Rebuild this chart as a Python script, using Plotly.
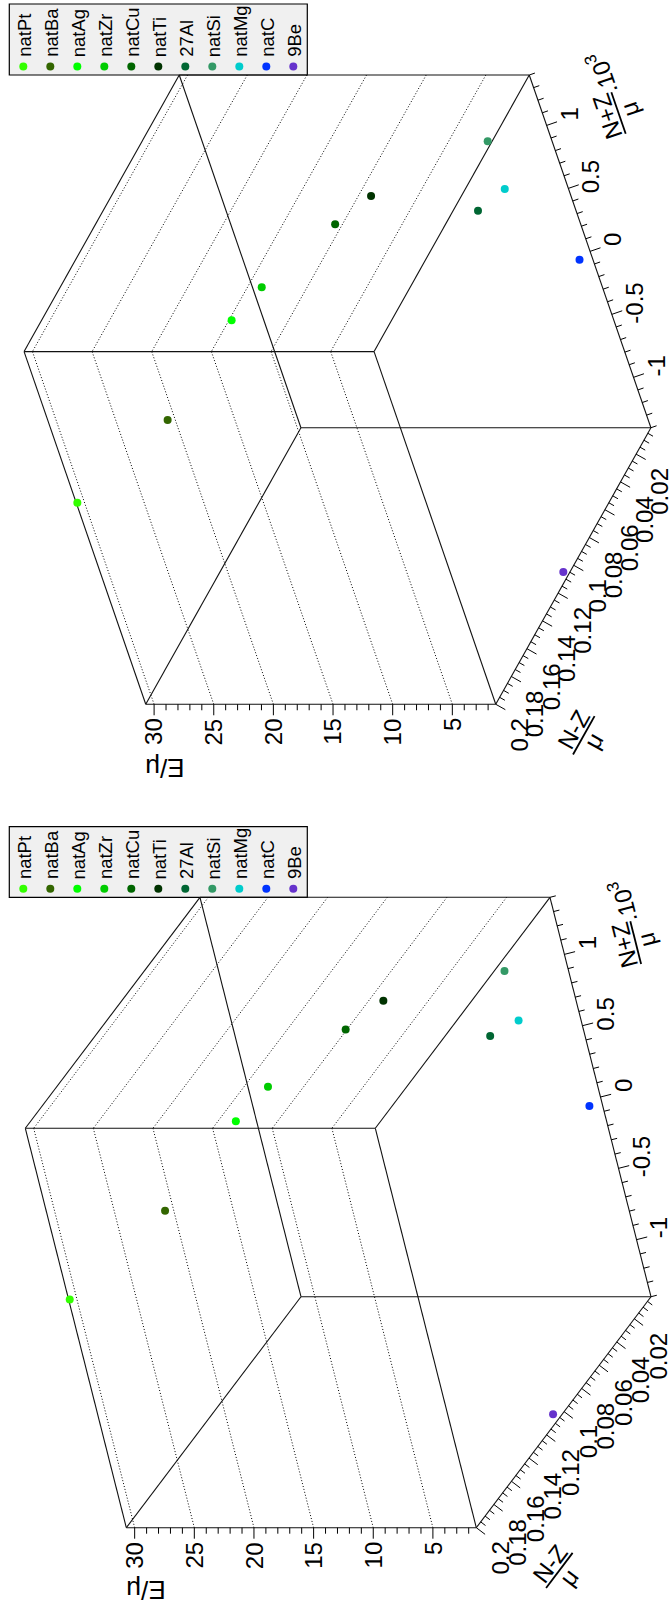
import math
import plotly.graph_objects as go

# ---------------- data ----------------
materials = ["natPt", "natBa", "natAg", "natZr", "natCu", "natTi",
             "27Al", "natSi", "natMg", "natC", "9Be"]
marker_colors = ["#33ff00", "#336600", "#00ff00", "#00cc00", "#006600", "#003300",
                 "#006633", "#339966", "#00cccc", "#0033ff", "#6633cc"]
# (N+Z)/mu  (x 10^3 axis units)
n_plus_z = [0.199, 0.725, 0.887, 1.077, 1.198, 1.337, 0.722, 0.911, 0.647, -0.054, -1.315]
# (N-Z)/mu
n_minus_z = [0.200, 0.188, 0.131, 0.1245, 0.090, 0.0824, 0.0372, 0.0043, 0.0147, 0.0021, 0.1126]
# E/mu
e_over_mu = [30.61, 21.91, 19.68, 16.89, 12.55, 9.53, 5.76, 6.41, 5.26, 2.37, 1.10]

x_range = [-1.4, 1.4]
y_range = [0.001, 0.2]
z_range = [1.36, 30.7]
x_tick_values = [-1, -0.5, 0, 0.5, 1]
x_tick_labels = ["-1", "-0.5", "0", "0.5", "1"]
y_tick_values = [0.02, 0.04, 0.06, 0.08, 0.1, 0.12, 0.14, 0.16, 0.18, 0.2]
y_tick_labels = ["0.02", "0.04", "0.06", "0.08", "0.1", "0.12", "0.14", "0.16", "0.18", "0.2"]
z_tick_values = [5, 10, 15, 20, 25, 30]
z_tick_labels = ["5", "10", "15", "20", "25", "30"]
minor_steps = {"x": 0.1, "y": 0.005, "z": 1.0}

# ---------------- view / layout constants ----------------
W, H = 672, 1608
views = [
    dict(cx=337.5, cy=389.65, scale=448.2, scale_z=350.0, phi=38.1, elev=26.1,
         legend=(9.3, 4.0, 307.3, 75.0)),
    dict(cx=338.15, cy=1212.5, scale=461.4, scale_z=350.0, phi=30.04, elev=25.93,
         legend=(9.3, 826.7, 307.3, 897.3)),
]
FONT = "Liberation Sans, Arial, Helvetica, sans-serif"
LABEL_SIZE = 24
TITLE_SIZE = 24
LEGEND_SIZE = 18.5
MAJOR_LEN, MINOR_LEN = 11, 6

RANGES = {"x": x_range, "y": y_range, "z": z_range}


def project(view, X, Y, Z):
    a = (X - x_range[0]) / (x_range[1] - x_range[0]) - 0.5
    b = (Y - y_range[0]) / (y_range[1] - y_range[0]) - 0.5
    c = (Z - z_range[0]) / (z_range[1] - z_range[0]) - 0.5
    p = math.radians(view["phi"])
    e = math.radians(view["elev"])
    h = view["scale"] * (math.cos(p) * a - math.sin(p) * b)
    v = view["scale"] * math.sin(e) * (math.sin(p) * a + math.cos(p) * b) + view["scale_z"] * c
    # the whole canvas is turned a quarter turn counter-clockwise
    return view["cx"] - v, view["cy"] - h


def axis_point(name, val):
    if name == "x":
        return (val, y_range[0], z_range[0])
    if name == "y":
        return (x_range[0], val, z_range[0])
    return (x_range[0], y_range[1], val)


def tick_values(lo, hi, step):
    k0 = math.ceil(lo / step - 1e-9)
    k1 = math.floor(hi / step + 1e-9)
    return [round(k * step, 10) for k in range(k0, k1 + 1)]


fig = go.Figure()
annotations = []
shapes = []


def add_text(x, y, text, size, angle, xanchor="center", yanchor="middle"):
    annotations.append(dict(x=x, y=y, xref="x", yref="y", text=text, showarrow=False,
                            textangle=angle, xanchor=xanchor, yanchor=yanchor,
                            borderpad=0, borderwidth=0,
                            font=dict(family=FONT, size=size, color="black")))


def add_lines(xs, ys, color="black", width=1, dash=None):
    fig.add_trace(go.Scatter(x=xs, y=ys, mode="lines", hoverinfo="skip", showlegend=False,
                             line=dict(color=color, width=width, dash=dash)))


for view in views:
    cx, cy = view["cx"], view["cy"]

    # ---- dotted z grid on the two back walls ----
    gx, gy = [], []
    for z in z_tick_values:
        p = project(view, x_range[1], y_range[0], z)
        q = project(view, x_range[1], y_range[1], z)
        gx += [p[0], q[0], None]; gy += [p[1], q[1], None]
        p = project(view, x_range[0], y_range[1], z)
        q = project(view, x_range[1], y_range[1], z)
        gx += [p[0], q[0], None]; gy += [p[1], q[1], None]
    add_lines(gx, gy, color="black", width=1, dash="1px,2px")

    # ---- box edges ----
    corners = [(X, Y, Z) for X in x_range for Y in y_range for Z in z_range]
    ex, ey = [], []
    for i in range(8):
        for j in range(i + 1, 8):
            ci, cj = corners[i], corners[j]
            if sum(1 for k in range(3) if ci[k] != cj[k]) == 1:
                p = project(view, *ci); q = project(view, *cj)
                ex += [p[0], q[0], None]; ey += [p[1], q[1], None]
    add_lines(ex, ey, color="#111111", width=1.1)

    # ---- axes: ticks, labels, titles ----
    tx, ty = [], []
    axis_specs = {
        "x": (x_tick_values, x_tick_labels),
        "y": (y_tick_values, y_tick_labels),
        "z": (z_tick_values, z_tick_labels),
    }
    for name, (majors, labels) in axis_specs.items():
        lo, hi = RANGES[name]
        plo = project(view, *axis_point(name, lo))
        phi_ = project(view, *axis_point(name, hi))
        dx, dy = phi_[0] - plo[0], phi_[1] - plo[1]
        ln = math.hypot(dx, dy)
        d = (dx / ln, dy / ln)
        perp = (-d[1], d[0])
        mx, my = (plo[0] + phi_[0]) / 2, (plo[1] + phi_[1]) / 2
        if perp[0] * (mx - cx) + perp[1] * (my - cy) < 0:
            perp = (-perp[0], -perp[1])
        for v in tick_values(lo, hi, minor_steps[name]):
            is_major = any(abs(v - m) < 1e-9 for m in majors)
            L = MAJOR_LEN if is_major else MINOR_LEN
            p = project(view, *axis_point(name, v))
            tx += [p[0], p[0] + perp[0] * L, None]
            ty += [p[1], p[1] + perp[1] * L, None]
        for v, lab in zip(majors, labels):
            p = project(view, *axis_point(name, v))
            if name == "x":
                add_text(min(p[0] + 23, W - 14), p[1] - 11.5, lab, LABEL_SIZE, -90,
                         "center", "middle")
            elif name == "y":
                add_text(p[0] + 24, p[1] + 14, lab, LABEL_SIZE, -90, "center", "top")
            else:
                add_text(p[0], p[1] + 14, lab, LABEL_SIZE, -90, "center", "top")

        if name == "z":
            fx = phi_[0] - 19 * d[0] + 63 * perp[0]
            fy = phi_[1] - 19 * d[1] + 63 * perp[1]
            add_text(fx, fy, "E/\u03bc", TITLE_SIZE + 2, 180)
        else:
            if name == "x":
                r = d
                F = (phi_[0] - 65 * r[0] + 72 * perp[0], phi_[1] - 65 * r[1] + 72 * perp[1])
                num = "N+Z"
            else:
                r = (-d[0], -d[1])
                F = (phi_[0] + 16 * r[0] + 92 * perp[0], phi_[1] + 16 * r[1] + 92 * perp[1])
                num = "N-Z"
            theta = math.degrees(math.atan2(r[1], r[0]))
            up = (math.sin(math.radians(theta)), -math.cos(math.radians(theta)))
            add_text(F[0] + 11.5 * up[0], F[1] + 11.5 * up[1], num, TITLE_SIZE, theta)
            add_text(F[0] - 11.5 * up[0], F[1] - 11.5 * up[1], "\u03bc", TITLE_SIZE, theta)
            add_lines([F[0] - 22 * r[0], F[0] + 22 * r[0]], [F[1] - 22 * r[1], F[1] + 22 * r[1]],
                      color="black", width=1.8)
            if name == "x":
                add_text(F[0] + 43 * r[0] + 3 * up[0], F[1] + 43 * r[1] + 3 * up[1],
                         ".10<sup>3</sup>", TITLE_SIZE, theta)
    add_lines(tx, ty, color="black", width=1)

    # ---- data points ----
    px, py = [], []
    for X, Y, Z in zip(n_plus_z, n_minus_z, e_over_mu):
        q = project(view, X, Y, Z)
        px.append(q[0]); py.append(q[1])
    fig.add_trace(go.Scatter(x=px, y=py, mode="markers", showlegend=False, text=materials,
                             hoverinfo="text",
                             marker=dict(size=8, color=marker_colors, line=dict(width=0))))

    # ---- legend box ----
    lx0, ly0, lx1, ly1 = view["legend"]
    shapes.append(dict(type="rect", xref="x", yref="y", x0=lx0, y0=ly0, x1=lx1, y1=ly1,
                       fillcolor="#f0f0f0", line=dict(color="black", width=1.2), layer="below"))
    step = (lx1 - lx0 - 28) / (len(materials) - 1)
    lmx = [lx0 + 14 + i * step for i in range(len(materials))]
    lmy = [ly1 - 8.5] * len(materials)
    fig.add_trace(go.Scatter(x=lmx, y=lmy, mode="markers", showlegend=False, hoverinfo="skip",
                             marker=dict(size=8, color=marker_colors, line=dict(width=0))))
    for xm, name in zip(lmx, materials):
        add_text(xm + 1, ly1 - 18, name, LEGEND_SIZE, -90, "center", "bottom")

fig.update_layout(
    width=W, height=H, autosize=False,
    margin=dict(l=0, r=0, t=0, b=0),
    paper_bgcolor="white", plot_bgcolor="white",
    xaxis=dict(range=[0, W], visible=False, fixedrange=True),
    yaxis=dict(range=[H, 0], visible=False, fixedrange=True),
    annotations=annotations, shapes=shapes, showlegend=False,
)
fig.write_html("out.html", config={"displayModeBar": False})
